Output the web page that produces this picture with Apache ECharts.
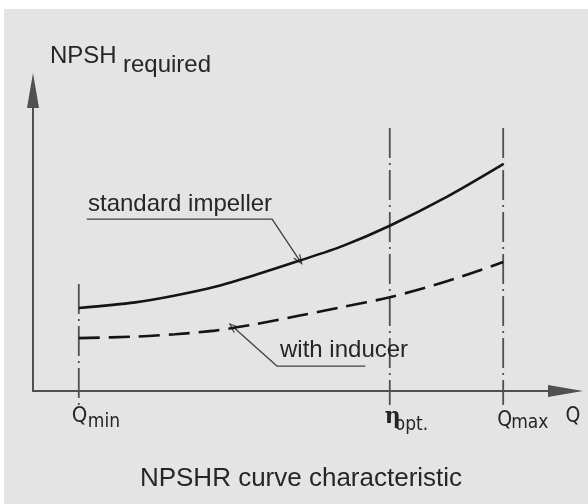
<!DOCTYPE html>
<html><head><meta charset="utf-8">
<script src="https://cdn.jsdelivr.net/npm/echarts@6/dist/echarts.min.js"></script>
<style>html,body{margin:0;padding:0;background:#fff}#c{width:588px;height:504px}</style>
</head><body><div id="c"></div>
<script>
// flow (x, relative units) and NPSH required (y, relative units)
const flowQ = [8.6, 19.2, 26.7, 34.2, 41.7, 50.1, 58.2, 67.0, 77.7, 88.3];
const npshStandard = [27.6, 29.5, 31.8, 34.7, 38.6, 43.4, 48.3, 55.0, 64.6, 75.5];
const npshInducer = [17.6, 18.1, 18.9, 20.1, 22.2, 25.1, 28.0, 31.2, 36.5, 42.9];
// reference flows: Qmin, eta opt., Qmax
const markerQ = [8.6, 67.0, 88.3];
const markerTop = [35.6, 87.5, 87.5];
const markerBottom = -4.7;
const markerMain = ['Q', 'η', 'Q'];
const markerSub = ['min', 'opt.', 'max'];
// leader lines for the curve labels (data units)
const leaderStandardX = [10.1, 44.9, 50.0];
const leaderStandardY = [57.2, 57.2, 43.6];
const leaderInducerX = [62.4, 45.8, 37.6];
const leaderInducerY = [8.3, 8.3, 21.3];

const chart = echarts.init(document.getElementById('c'), null, {renderer: 'canvas'});
const TXT = '#262626';
const FONT = '"Liberation Sans", Arial, Helvetica, sans-serif';
const NARROW = '"Liberation Sans Narrow", "DejaVu Sans Condensed", "Liberation Sans", sans-serif';

function zip(xs, ys) { return xs.map((x, i) => [x, ys[i]]); }
const ARROW = 'path://M0,10 L5,0 L10,10';

function leaderSeries(xs, ys) {
  return {
    type: 'line', data: zip(xs, ys).map((p, i) => ({value: p, symbol: i === xs.length - 1 ? ARROW : 'none'})),
    symbolSize: [7, 9], clip: false, silent: true, z: 3,
    lineStyle: {color: '#404040', width: 1.3},
    itemStyle: {color: 'rgba(0,0,0,0)', borderColor: '#404040', borderWidth: 1.3}
  };
}

const series = [
  {type: 'line', data: zip(flowQ, npshStandard), smooth: 0.3, symbol: 'none', clip: false, z: 4,
   lineStyle: {color: '#141414', width: 2.6}},
  {type: 'line', data: zip(flowQ, npshInducer), smooth: 0.3, symbol: 'none', clip: false, z: 4,
   lineStyle: {color: '#141414', width: 2.6, type: [21, 9]}}
];
markerQ.forEach((q, i) => {
  series.push({type: 'line', data: [[q, markerTop[i]], [q, markerBottom]], symbol: 'none', clip: false, z: 2,
    lineStyle: {color: '#505050', width: 1.8, type: [30, 5, 2, 5]}});
});
series.push(leaderSeries(leaderStandardX, leaderStandardY));
series.push(leaderSeries(leaderInducerX, leaderInducerY));

const axisLineStyle = {color: '#505050', width: 2};
chart.setOption({
  animation: false,
  backgroundColor: '#e4e4e4',
  grid: {left: 33, right: 22.5, top: 90.5, bottom: 113, containLabel: false},
  xAxis: {type: 'value', min: 0, max: 100, splitLine: {show: false}, axisTick: {show: false}, axisLabel: {show: false},
    axisLine: {show: true, onZero: false, lineStyle: axisLineStyle, symbol: ['none', 'triangle'], symbolSize: [12, 35]}},
  yAxis: {type: 'value', min: 0, max: 100, splitLine: {show: false}, axisTick: {show: false}, axisLabel: {show: false},
    axisLine: {show: true, onZero: false, lineStyle: axisLineStyle, symbol: ['none', 'triangle'], symbolSize: [12, 35]}},
  series: series
});

// orient arrowheads along their leader lines
function rot(xs, ys) {
  const n = xs.length;
  const a = chart.convertToPixel({gridIndex: 0}, [xs[n - 2], ys[n - 2]]);
  const b = chart.convertToPixel({gridIndex: 0}, [xs[n - 1], ys[n - 1]]);
  const th = Math.atan2(-(b[1] - a[1]), b[0] - a[0]) * 180 / Math.PI;
  return th - 90;
}
[[leaderStandardX, leaderStandardY, series.length - 2], [leaderInducerX, leaderInducerY, series.length - 1]].forEach(([xs, ys, idx]) => {
  series[idx].data[xs.length - 1].symbolRotate = rot(xs, ys);
});

function text(x, y, str, size, opts) {
  return Object.assign({type: 'text', x: x, y: y, silent: true, z: 10,
    style: Object.assign({text: str, fontSize: size, fontFamily: FONT, fill: TXT,
      align: 'left', verticalAlign: 'middle', textAlign: 'left', textVerticalAlign: 'middle'}, (opts || {}))});
}
const g = [
  {type: 'rect', shape: {x: 0, y: 0, width: 588, height: 9}, style: {fill: '#ffffff'}, silent: true, z: -10},
  {type: 'rect', shape: {x: 0, y: 0, width: 4, height: 504}, style: {fill: '#ffffff'}, silent: true, z: -10},
  text(50, 56, 'NPSH', 24),
  text(123, 65, 'required', 24),
  text(88, 204, 'standard impeller', 24),
  text(280, 350, 'with inducer', 24),
  text(301, 479, 'NPSHR curve characteristic', 26, {align: 'center', textAlign: 'center'}),
  text(573, 417, 'Q', 21, {fontFamily: NARROW, align: 'center', textAlign: 'center'})
];
markerQ.forEach((q, i) => {
  const px = chart.convertToPixel({gridIndex: 0}, [q, 0])[0];
  if (i === 0) {
    g.push(text(px - 7, 416, markerMain[i], 22, {fontFamily: NARROW}));
    g.push(text(px + 9, 422, markerSub[i], 19, {fontFamily: NARROW}));
  } else if (i === 1) {
    g.push(text(px - 5, 417, markerMain[i], 22, {fontFamily: '"DejaVu Serif", serif', fontWeight: 'bold'}));
    g.push(text(px + 5, 425, markerSub[i], 19, {fontFamily: NARROW}));
  } else {
    g.push(text(px - 6, 421, markerMain[i], 21, {fontFamily: NARROW}));
    g.push(text(px + 8, 423, markerSub[i], 19, {fontFamily: NARROW}));
  }
});
chart.setOption({series: series, graphic: g});
</script></body></html>
